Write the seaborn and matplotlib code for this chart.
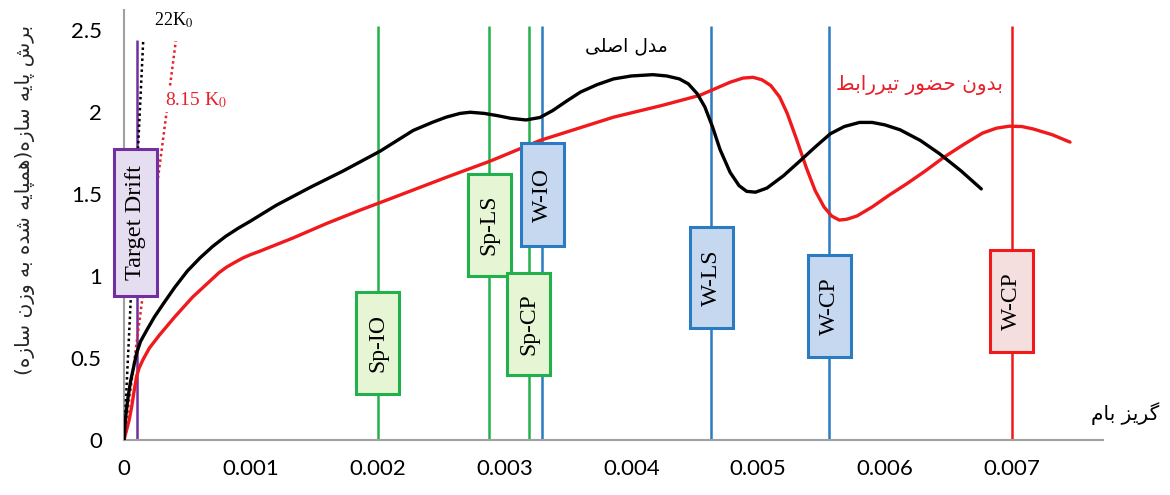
import matplotlib
matplotlib.use("Agg")
import matplotlib.pyplot as plt
import numpy as np
import pandas as pd
import seaborn as sns
from matplotlib.patches import Rectangle

# ---- pushover curves: roof drift ratio vs. base shear / weight ----
drift_main = [0, 0.00001, 0.00003, 0.00005, 0.00008, 0.0001, 0.00013, 0.00018,
              0.00024, 0.00031, 0.0004, 0.0005, 0.0006, 0.0007, 0.0008, 0.0009,
              0.001, 0.0012, 0.00147, 0.00173, 0.00202, 0.00228, 0.00243,
              0.00254, 0.00265, 0.00273, 0.00284, 0.00294, 0.00305, 0.00317,
              0.00328, 0.00338, 0.00349, 0.0036, 0.00373, 0.00386, 0.004,
              0.00417, 0.00428, 0.00438, 0.00445, 0.00452, 0.00458, 0.00464,
              0.0047, 0.00478, 0.00485, 0.00491, 0.00498, 0.00507, 0.0052,
              0.00533, 0.00545, 0.00557, 0.00568, 0.0058, 0.0059, 0.006,
              0.00612, 0.00628, 0.00643, 0.0066, 0.00676]
shear_main = [0, 0.12, 0.25, 0.35, 0.46, 0.53, 0.6, 0.67,
              0.75, 0.83, 0.93, 1.03, 1.11, 1.18, 1.24, 1.29,
              1.335, 1.43, 1.54, 1.64, 1.76, 1.886, 1.935,
              1.967, 1.99, 1.997, 1.99, 1.977, 1.96, 1.95,
              1.965, 2.007, 2.065, 2.12, 2.165, 2.20, 2.218,
              2.226, 2.218, 2.2, 2.17, 2.11, 2.03, 1.91,
              1.77, 1.63, 1.55, 1.515, 1.51, 1.535, 1.61,
              1.70, 1.785, 1.866, 1.91, 1.935, 1.935, 1.92,
              1.89, 1.825, 1.745, 1.64, 1.53]

drift_nolink = [0, 0.00002, 0.00004, 0.00006, 0.00008, 0.0001, 0.00012, 0.00015,
                0.0002, 0.00028, 0.0004, 0.00054, 0.00061, 0.00068, 0.00075,
                0.00081, 0.00088, 0.00094, 0.001, 0.00107, 0.0012, 0.00133,
                0.0016, 0.00186, 0.0021, 0.00254, 0.00289, 0.00328, 0.00386,
                0.00425, 0.00454, 0.00466, 0.00478, 0.00488, 0.00496, 0.00503,
                0.0051, 0.00517, 0.00523, 0.0053, 0.00538, 0.00545, 0.00552,
                0.00558, 0.00564, 0.0057, 0.00578, 0.0059, 0.00603, 0.00617,
                0.00632, 0.00646, 0.00662, 0.00677, 0.00688, 0.00698, 0.00708,
                0.00717, 0.00732, 0.00746]
shear_nolink = [0, 0.06, 0.12, 0.2, 0.3, 0.39, 0.44, 0.49,
                0.56, 0.64, 0.75, 0.87, 0.92, 0.97, 1.02,
                1.054, 1.085, 1.11, 1.13, 1.15, 1.19, 1.23,
                1.32, 1.40, 1.47, 1.60, 1.70, 1.825, 1.967,
                2.04, 2.10, 2.14, 2.18, 2.205, 2.21, 2.195,
                2.16, 2.09, 1.99, 1.84, 1.66, 1.52, 1.42,
                1.365, 1.34, 1.345, 1.365, 1.42, 1.49, 1.56,
                1.64, 1.72, 1.80, 1.87, 1.90, 1.912, 1.91,
                1.895, 1.86, 1.815]

# ---- performance levels ----
level_names = ["Sp-IO", "Sp-LS", "Sp-CP", "W-IO", "W-LS", "W-CP", "W-CP"]
level_drifts = [0.002, 0.00288, 0.00319, 0.0033, 0.00463, 0.00556, 0.007]
level_groups = ["sp", "sp", "sp", "w", "w", "w", "w_nolink"]

target_drift = 0.0001
target_label = "Target Drift"

# initial stiffness lines
k0 = 730.0
k_factors = [22, 8.15]
k_labels = ["22K$_0$", "8.15 K$_0$"]

curve_labels = ["مدل اصلی", "بدون حضور تیررابط"]
x_label = "گریز بام"
y_label = "برش پایه سازه(همپایه شده به وزن سازه)"
x_ticks = [0, 0.001, 0.002, 0.003, 0.004, 0.005, 0.006, 0.007]
x_ticklabels = ["0", "0.001", "0.002", "0.003", "0.004", "0.005", "0.006", "0.007"]
y_ticks = [0, 0.5, 1, 1.5, 2, 2.5]
y_ticklabels = ["0", "0.5", "1", "1.5", "2", "2.5"]

# ---- simple Persian shaping (contextual forms + right-to-left order) ----
FORMS = {
    "ا": ("\uFE8D", "\uFE8E", None, None),
    "ب": ("\uFE8F", "\uFE90", "\uFE91", "\uFE92"),
    "پ": ("\uFB56", "\uFB57", "\uFB58", "\uFB59"),
    "ت": ("\uFE95", "\uFE96", "\uFE97", "\uFE98"),
    "ح": ("\uFEA1", "\uFEA2", "\uFEA3", "\uFEA4"),
    "د": ("\uFEA9", "\uFEAA", None, None),
    "ر": ("\uFEAD", "\uFEAE", None, None),
    "ز": ("\uFEAF", "\uFEB0", None, None),
    "س": ("\uFEB1", "\uFEB2", "\uFEB3", "\uFEB4"),
    "ش": ("\uFEB5", "\uFEB6", "\uFEB7", "\uFEB8"),
    "ص": ("\uFEB9", "\uFEBA", "\uFEBB", "\uFEBC"),
    "ض": ("\uFEBD", "\uFEBE", "\uFEBF", "\uFEC0"),
    "ط": ("\uFEC1", "\uFEC2", "\uFEC3", "\uFEC4"),
    "ل": ("\uFEDD", "\uFEDE", "\uFEDF", "\uFEE0"),
    "م": ("\uFEE1", "\uFEE2", "\uFEE3", "\uFEE4"),
    "ن": ("\uFEE5", "\uFEE6", "\uFEE7", "\uFEE8"),
    "ه": ("\uFEE9", "\uFEEA", "\uFEEB", "\uFEEC"),
    "و": ("\uFEED", "\uFEEE", None, None),
    "ی": ("\uFBFC", "\uFBFD", "\uFBFE", "\uFBFF"),
    "گ": ("\uFB92", "\uFB93", "\uFB94", "\uFB95"),
}


def rtl(text):
    out = []
    for i, ch in enumerate(text):
        if ch not in FORMS:
            out.append(ch)
            continue
        prev = text[i - 1] if i > 0 else ""
        nxt = text[i + 1] if i + 1 < len(text) else ""
        join_prev = prev in FORMS and FORMS[prev][2] is not None
        join_next = FORMS[ch][2] is not None and nxt in FORMS
        iso, fin, ini, med = FORMS[ch]
        if join_prev and join_next:
            out.append(med)
        elif join_prev:
            out.append(fin)
        elif join_next:
            out.append(ini)
        else:
            out.append(iso)
    visual = "".join(reversed(out))
    return visual.translate(str.maketrans("()", ")("))


sns.set_theme(style="white")
plt.rcParams["mathtext.fontset"] = "stix"
plt.rcParams["font.family"] = ["Lato", "DejaVu Sans"]

COLORS = {
    "sp": ("#22B04C", "#E6F5D3"),
    "w": ("#2A7BC1", "#C6D8EF"),
    "w_nolink": ("#F0191C", "#F4DEDE"),
}
PURPLE, PURPLE_FILL = "#7030A0", "#E5DDF0"
RED_TEXT = "#E8202A"

fig = plt.figure(figsize=(11.7, 4.95), dpi=100)
ax = fig.add_axes([124 / 1170, 1 - 440 / 495, (1103 - 124) / 1170, (440 - 10) / 495])

df_main = pd.DataFrame({"drift": drift_main, "shear": shear_main})
df_nolink = pd.DataFrame({"drift": drift_nolink, "shear": shear_nolink})

# vertical performance-level lines
for name, d, g in zip(level_names, level_drifts, level_groups):
    ax.vlines(d, 0, 2.52, color=COLORS[g][0], lw=1.8, zorder=2)
ax.vlines(target_drift, 0, 2.44, color=PURPLE, lw=1.8, zorder=2)

# stiffness lines
for kf, col in zip(k_factors, ["black", RED_TEXT]):
    top = 2.43
    ax.plot([0, top / (kf * k0)], [0, top], ls=(0, (1, 1.2)), color=col, lw=1.8, zorder=3)

sns.lineplot(data=df_nolink, x="drift", y="shear", ax=ax, color="#F0191C", lw=2.4,
             sort=False, estimator=None, zorder=4)
sns.lineplot(data=df_main, x="drift", y="shear", ax=ax, color="black", lw=2.4,
             sort=False, estimator=None, zorder=4)

# labelled boxes on the performance lines
box_w = 0.00034
box_spans = [(0.28, 0.90), (1.0, 1.62), (0.395, 1.016), (1.18, 1.81),
             (0.68, 1.30), (0.506, 1.125), (0.537, 1.16)]
for name, d, g, (b0, b1) in zip(level_names, level_drifts, level_groups, box_spans):
    edge, fill = COLORS[g]
    ax.add_patch(Rectangle((d - box_w / 2, b0), box_w, b1 - b0, facecolor=fill,
                           edgecolor=edge, lw=2.2, zorder=6))
    ax.text(d, (b0 + b1) / 2, name, rotation=90, ha="center", va="center",
            family="Liberation Serif", fontsize=17, color="black", zorder=7)

tb0, tb1 = 0.88, 1.776
ax.add_patch(Rectangle((target_drift - box_w / 2 - 0.00001, tb0), box_w, tb1 - tb0,
                       facecolor=PURPLE_FILL, edgecolor=PURPLE, lw=2.2, zorder=6,
                       clip_on=False))
ax.text(target_drift - 0.00001, (tb0 + tb1) / 2, target_label, rotation=90, ha="center",
        va="center", family="Liberation Serif", fontsize=17.5, color="black", zorder=7)

ax.text(0.00024, 2.5, k_labels[0], family="Liberation Serif", fontsize=13,
        color="black", ha="left", va="bottom", zorder=8)
ax.text(0.00032, 2.07, k_labels[1], family="Liberation Serif", fontsize=14,
        color=RED_TEXT, ha="left", va="center", zorder=8,
        bbox=dict(facecolor="white", edgecolor="none", pad=1.5))

ax.text(0.00396, 2.40, rtl(curve_labels[0]), family=["DejaVu Sans"], fontsize=13.5,
        color="black", ha="center", va="center")
ax.text(0.00627, 2.16, rtl(curve_labels[1]), family=["DejaVu Sans"], fontsize=14.5,
        color=RED_TEXT, ha="center", va="center")

ax.text(1.023, 0.035, rtl(x_label), transform=ax.transAxes, family=["DejaVu Sans"],
        fontsize=14.5, color="black", ha="center", va="bottom")
fig.text(25 / 1170, 1 - 200 / 495, rtl(y_label), rotation=90, family=["DejaVu Sans"],
         fontsize=14.5, ha="center", va="center")

ax.set_xlim(0, 0.00772)
ax.set_ylim(0, 2.62)
ax.set_xticks(x_ticks)
ax.set_xticklabels(x_ticklabels)
ax.set_yticks(y_ticks)
ax.set_yticklabels(y_ticklabels)
ax.set_xlabel("")
ax.set_ylabel("")
ax.tick_params(axis="both", labelsize=16, colors="black")
ax.tick_params(axis="y", length=6, width=1.2, color="#A0A0A0", direction="out", pad=10)
ax.tick_params(axis="x", length=0, pad=14)
sns.despine(ax=ax)
for side in ["left", "bottom"]:
    ax.spines[side].set_color("#A0A0A0")
    ax.spines[side].set_linewidth(1.5)

fig.savefig("out.png", dpi=100)
